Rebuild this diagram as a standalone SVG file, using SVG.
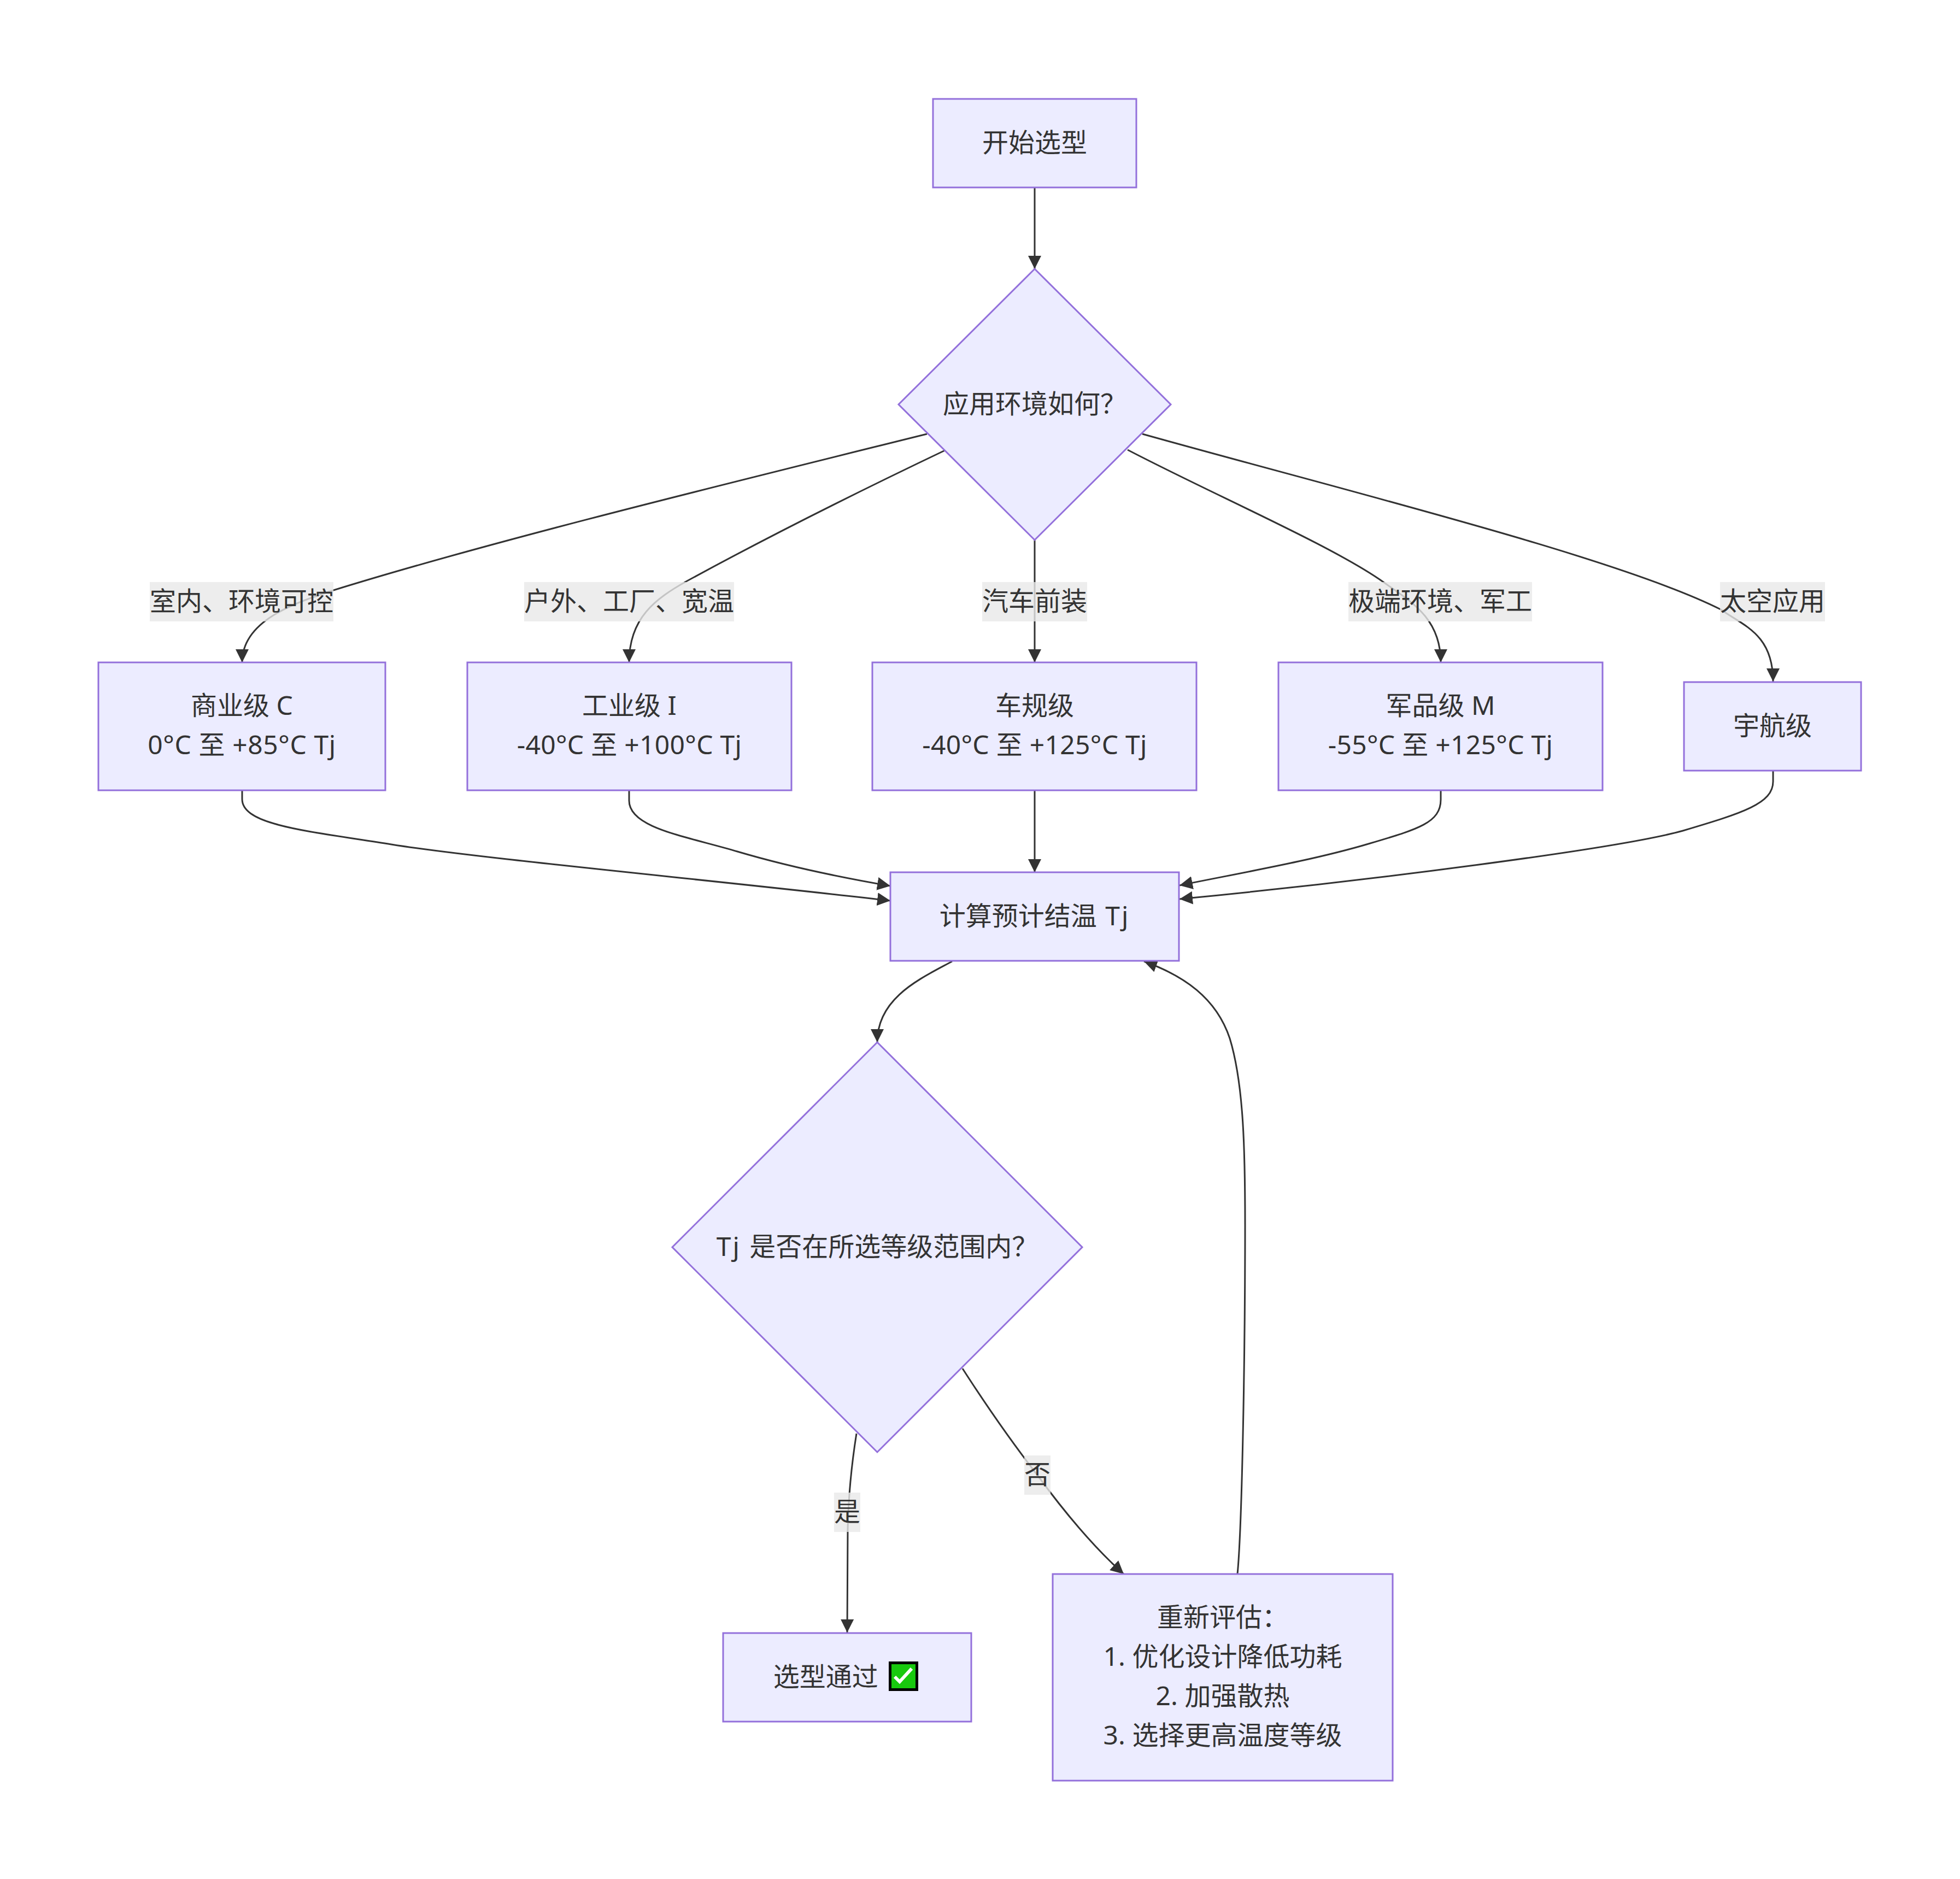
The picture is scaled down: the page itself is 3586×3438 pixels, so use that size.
<svg xmlns="http://www.w3.org/2000/svg" width="3586" height="3438" viewBox="0 0 3586 3438">
<defs>
<marker id="arrow" viewBox="0 0 10 10" refX="10" refY="5" markerUnits="userSpaceOnUse" markerWidth="24" markerHeight="24" orient="auto"><path d="M0,0 L10,5 L0,10 z" fill="#333333"/></marker>
</defs>
<style>
text{font-family:"Noto Sans","Noto Sans CJK SC","Liberation Sans",sans-serif;font-size:48px;fill:#333333;text-anchor:middle}
.n{fill:#ECECFF;stroke:#9370DB;stroke-width:3}
.e{fill:none;stroke:#333333;stroke-width:3;marker-end:url(#arrow)}
.lb{fill:#e8e8e8;fill-opacity:.8;stroke:none}
.s{letter-spacing:.6px}
.r{letter-spacing:.3px}
.t{letter-spacing:3px}
</style>
<rect width="3586" height="3438" fill="#ffffff"/>
<g id="connectors">
<path class="e" d="M1893,343 L1893,492"/>
<path class="e" d="M1696,794 C1330,885 900,990 610,1080 C540,1103 443,1135 443,1212"/>
<path class="e" d="M1731,823 C1580,895 1400,985 1257,1063 C1200,1095 1151,1130 1151,1212"/>
<path class="e" d="M1893,988 L1893,1212"/>
<path class="e" d="M2063,823 C2220,905 2440,1000 2531,1065 C2580,1100 2636,1130 2636,1212"/>
<path class="e" d="M2090,794 C2450,895 2960,1020 3148,1115 C3190,1145 3244,1160 3244,1247"/>
<path class="e" d="M443,1447 L443,1462 C443,1510 560,1520 716,1545 C870,1570 1300,1610 1629,1648"/>
<path class="e" d="M1151,1447 L1151,1465 C1151,1515 1255,1530 1349,1558 C1430,1582 1530,1604 1629,1621"/>
<path class="e" d="M1893,1447 L1893,1596"/>
<path class="e" d="M2636,1447 L2636,1463 C2636,1505 2595,1517 2507,1543 C2400,1575 2270,1597 2158,1620"/>
<path class="e" d="M3244,1410 L3244,1430 C3244,1470 3190,1487 3079,1520 C2960,1553 2500,1612 2158,1645"/>
<path class="e" d="M1742,1759 C1685,1790 1605,1825 1605,1907"/>
<path class="e" d="M2264,2880 C2272,2800 2278,2500 2278,2240 C2278,2110 2276,1985 2250,1900 C2225,1825 2165,1785 2093,1759"/>
<path class="e" d="M1567,2623 C1558,2680 1552,2740 1551,2800 L1550,2987"/>
<path class="e" d="M1761,2504 C1810,2580 1860,2650 1898,2699 C1950,2770 2000,2830 2056,2880"/>
</g>
<g id="edge-labels">
<g><rect class="lb" x="274" y="1065" width="336" height="72"/><text x="442" y="1117">室内、环境可控</text></g>
<g><rect class="lb" x="959" y="1065" width="384" height="72"/><text x="1151" y="1117">户外、工厂、宽温</text></g>
<g><rect class="lb" x="1797" y="1065" width="192" height="72"/><text x="1893" y="1117">汽车前装</text></g>
<g><rect class="lb" x="2467" y="1065" width="336" height="72"/><text x="2635" y="1117">极端环境、军工</text></g>
<g><rect class="lb" x="3147" y="1065" width="192" height="72"/><text x="3243" y="1117">太空应用</text></g>
<g><rect class="lb" x="1526" y="2731" width="48" height="72"/><text x="1550" y="2783">是</text></g>
<g><rect class="lb" x="1874" y="2663" width="48" height="72"/><text x="1898" y="2715">否</text></g>
</g>
<g id="start"><rect class="n" x="1707" y="181" width="372" height="162"/><text x="1893" y="278">开始选型</text></g>
<g id="env"><polygon class="n" points="1893,492 2142,740 1893,988 1644,740"/><text x="1893" y="756">应用环境如何？</text></g>
<g id="gradeC"><rect class="n" x="180" y="1212" width="525" height="234"/><text x="442.500" y="1308">商业级 C</text><text class="s" x="442.500" y="1380">0°C 至 +85°C Tj</text></g>
<g id="gradeI"><rect class="n" x="855" y="1212" width="593" height="234"/><text x="1151.500" y="1308">工业级 I</text><text class="r" x="1151.500" y="1380">-40°C 至 +100°C Tj</text></g>
<g id="gradeA"><rect class="n" x="1596" y="1212" width="593" height="234"/><text x="1893" y="1308">车规级</text><text class="r" x="1893" y="1380">-40°C 至 +125°C Tj</text></g>
<g id="gradeM"><rect class="n" x="2339" y="1212" width="593" height="234"/><text x="2635.500" y="1308">军品级 M</text><text class="r" x="2635.500" y="1380">-55°C 至 +125°C Tj</text></g>
<g id="gradeS"><rect class="n" x="3081" y="1248" width="324" height="162"/><text x="3243" y="1345">宇航级</text></g>
<g id="calc"><rect class="n" x="1629" y="1596" width="528" height="162"/><text x="1893" y="1693">计算预计结温<tspan class="t"> Tj</tspan></text></g>
<g id="check"><polygon class="n" points="1605,1907 1980,2282 1605,2657 1230,2282"/><text x="1605" y="2298"><tspan class="t">Tj </tspan>是否在所选等级范围内？</text></g>
<g id="pass"><rect class="n" x="1323" y="2988" width="454" height="162"/><text x="1547" y="3085">选型通过 <tspan style="fill-opacity:0">✅</tspan></text><rect x="1628.500" y="3042.500" width="49" height="49" fill="#18c90e" stroke="#000000" stroke-width="5"/><path d="M1637,3068 L1646,3077 L1668,3053" fill="none" stroke="#ffffff" stroke-width="6"/></g>
<g id="redo"><rect class="n" x="1926" y="2880" width="622" height="378"/><text x="2237" y="2976">重新评估：</text><text x="2237" y="3048">1. 优化设计降低功耗</text><text x="2237" y="3120">2. 加强散热</text><text x="2237" y="3192">3. 选择更高温度等级</text></g>
</svg>
